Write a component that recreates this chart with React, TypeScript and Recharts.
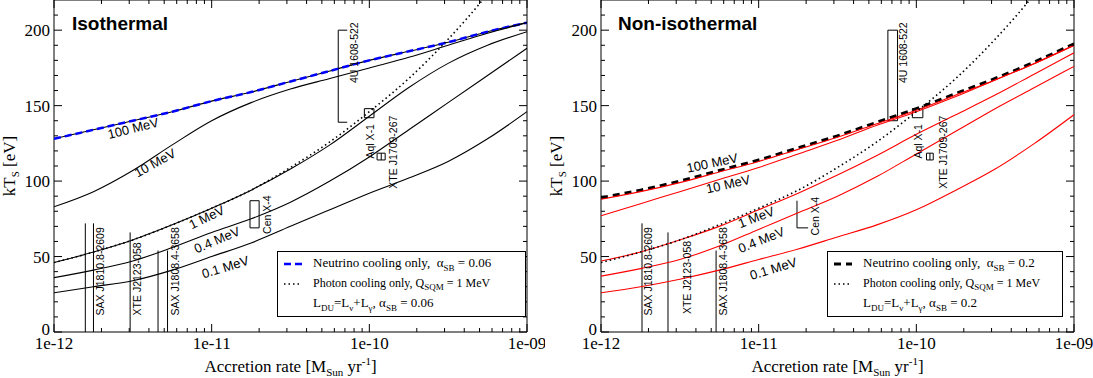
import React from "react";
import {
  LineChart,
  Line,
  XAxis,
  YAxis,
  ReferenceArea,
  ReferenceLine,
  ReferenceDot,
} from "recharts";

// accretion rate grid, M_sun / yr (quarter-decade steps)
const rates = [
  1e-12, 1.78e-12, 3.16e-12, 5.62e-12, 1e-11, 1.78e-11, 3.16e-11, 5.62e-11,
  1e-10, 1.78e-10, 3.16e-10, 5.62e-10, 1e-9,
];

// isothermal panel, kT_S [eV]
const isoNeutrino = [128, 134, 140, 146, 153, 159, 166, 173, 180, 186, 192, 199, 205];
const iso100 = [128, 134, 140, 146, 153, 159, 166, 173, 180, 186, 192, 199, 205];
const iso10 = [83, 93, 107, 124, 140, 152, 161, 168, 175, 182, 190, 198, 205];
const iso1 = [46, 53, 61, 71, 82, 94, 108, 124, 143, 162, 178, 190, 199];
const iso04 = [36, 41, 47, 56, 66, 75, 86, 100, 116, 134, 152, 170, 188];
const iso01 = [26, 30, 34, 41, 50, 59, 70, 81, 92, 102, 113, 128, 146];

// photon cooling only (same in both panels)
const photonOnly = [46, 53, 61, 71, 82, 94, 109, 126, 146, 168, 194, 224, 259];

// non-isothermal panel
const nonNeutrino = [89, 94, 100, 107, 114, 122, 130, 139, 148, 158, 168, 179, 191];
const non100 = [88, 93, 99, 106, 113, 121, 129, 138, 147, 157, 167, 178, 190];
const non10 = [77, 85, 93, 101, 109, 118, 127, 137, 146, 156, 167, 178, 190];
const non1 = [47, 53, 61, 70, 81, 92, 104, 117, 131, 144, 157, 171, 185];
const non04 = [37, 42, 48, 57, 68, 79, 90, 103, 118, 133, 148, 162, 176];
const non01 = [26, 30, 35, 41, 48, 55, 63, 71, 81, 94, 108, 125, 144];

const xTicks = [
  1e-12, 2e-12, 3e-12, 4e-12, 5e-12, 6e-12, 7e-12, 8e-12, 9e-12,
  1e-11, 2e-11, 3e-11, 4e-11, 5e-11, 6e-11, 7e-11, 8e-11, 9e-11,
  1e-10, 2e-10, 3e-10, 4e-10, 5e-10, 6e-10, 7e-10, 8e-10, 9e-10, 1e-9,
];
const yTicks = [0, 10, 20, 30, 40, 50, 60, 70, 80, 90, 100, 110, 120, 130, 140, 150, 160, 170, 180, 190, 200, 210];

// observed sources: [rate1, kT1, rate2, kT2] segments
type Seg = [number, number, number, number];
const box = (x1: number, x2: number, y1: number, y2: number): Seg[] => [
  [x1, y1, x2, y1],
  [x2, y1, x2, y2],
  [x2, y2, x1, y2],
  [x1, y2, x1, y1],
];

const isoMarkers: Seg[] = [
  [1.58e-12, 0, 1.58e-12, 72],
  [1.78e-12, 0, 1.78e-12, 72],
  [3.04e-12, 0, 3.04e-12, 66],
  [4.57e-12, 0, 4.57e-12, 54],
  [5.25e-12, 0, 5.25e-12, 54],
  ...box(1.75e-11, 2.0e-11, 69, 87),
  [6.35e-11, 139, 6.35e-11, 200],
  [6.35e-11, 200, 7.24e-11, 200],
  [6.35e-11, 139, 7.24e-11, 139],
  ...box(9.3e-11, 1.07e-10, 142, 148),
  ...box(1.12e-10, 1.26e-10, 114, 118.5),
  [1.19e-10, 114, 1.19e-10, 118.5],
];

const nonMarkers: Seg[] = [
  [1.82e-12, 0, 1.82e-12, 72],
  [2.66e-12, 0, 2.66e-12, 66],
  [5.37e-12, 0, 5.37e-12, 54],
  [1.75e-11, 69, 1.75e-11, 87],
  [1.75e-11, 69, 2.06e-11, 69],
  ...box(6.6e-11, 7.6e-11, 140, 200),
  ...box(9.44e-11, 1.1e-10, 142, 148),
  ...box(1.16e-10, 1.28e-10, 114, 118.5),
  [1.22e-10, 114, 1.22e-10, 118.5],
];

type Lab = { text: string; rate: number; kT: number; angle: number };

const isoSourceLabels: Lab[] = [
  { text: "SAX J1810.8-2609", rate: 1.96e-12, kT: 11, angle: -90 },
  { text: "XTE J2123-058", rate: 3.37e-12, kT: 11, angle: -90 },
  { text: "SAX J1808.4-3658", rate: 5.86e-12, kT: 11, angle: -90 },
  { text: "Cen X-4", rate: 2.25e-11, kT: 65, angle: -90 },
  { text: "4U 1608-522", rate: 8.04e-11, kT: 165, angle: -90 },
  { text: "Aql X-1", rate: 1.01e-10, kT: 115, angle: -90 },
  { text: "XTE J1709-267", rate: 1.42e-10, kT: 95, angle: -90 },
];
const nonSourceLabels: Lab[] = [
  { text: "SAX J1810.8-2609", rate: 1.99e-12, kT: 11, angle: -90 },
  { text: "XTE J2123-058", rate: 3.52e-12, kT: 12, angle: -90 },
  { text: "SAX J1808.4-3658", rate: 5.96e-12, kT: 11, angle: -90 },
  { text: "Cen X-4", rate: 2.29e-11, kT: 64, angle: -90 },
  { text: "4U 1608-522", rate: 8.26e-11, kT: 165, angle: -90 },
  { text: "Aql X-1", rate: 1.03e-10, kT: 115, angle: -90 },
  { text: "XTE J1709-267", rate: 1.48e-10, kT: 95, angle: -90 },
];

const isoCurveLabels: Lab[] = [
  { text: "100 MeV", rate: 3.18e-12, kT: 135, angle: -14 },
  { text: "10 MeV", rate: 4.37e-12, kT: 112, angle: -29 },
  { text: "1 MeV", rate: 9.3e-12, kT: 76, angle: -26 },
  { text: "0.4 MeV", rate: 1.08e-11, kT: 61, angle: -23 },
  { text: "0.1 MeV", rate: 1.22e-11, kT: 43, angle: -17 },
];
const nonCurveLabels: Lab[] = [
  { text: "100 MeV", rate: 5.07e-12, kT: 112, angle: -12 },
  { text: "10 MeV", rate: 6.4e-12, kT: 98, angle: -13 },
  { text: "1 MeV", rate: 9.64e-12, kT: 76, angle: -21 },
  { text: "0.4 MeV", rate: 1.04e-11, kT: 61, angle: -22 },
  { text: "0.1 MeV", rate: 1.24e-11, kT: 42, angle: -17 },
];

const isoRows = rates.map((rate, i) => ({
  rate,
  nu: isoNeutrino[i],
  q100: iso100[i],
  q10: iso10[i],
  q1: iso1[i],
  q04: iso04[i],
  q01: iso01[i],
  photon: photonOnly[i],
}));
const nonRows = rates.map((rate, i) => ({
  rate,
  nu: nonNeutrino[i],
  q100: non100[i],
  q10: non10[i],
  q1: non1[i],
  q04: non04[i],
  q01: non01[i],
  photon: photonOnly[i],
}));

const SERIF = "'Liberation Serif', 'Times New Roman', serif";
const SANS = "'Liberation Sans', Arial, sans-serif";
const H = 378;
const TOP = 0;
const BOTTOM = 332;
const YW = 54;

function XTick(props: any) {
  const { x, payload } = props;
  const e = Math.log10(payload.value);
  const major = Math.abs(e - Math.round(e)) < 1e-6;
  const len = major ? 8 : 4;
  const label = "1e-" + String(-Math.round(e)).padStart(2, "0");
  return (
    <g>
      <line x1={x} x2={x} y1={BOTTOM} y2={BOTTOM - len} stroke="#000" />
      <line x1={x} x2={x} y1={TOP} y2={TOP + len} stroke="#000" />
      {major && (
        <text x={x} y={BOTTOM + 17} textAnchor="middle" fontFamily={SERIF} fontSize={17} fill="#000">
          {label}
        </text>
      )}
    </g>
  );
}

function YTick(props: any) {
  const { y, payload, right } = props;
  const v = payload.value;
  const major = v % 50 === 0;
  const len = major ? 8 : 4;
  return (
    <g>
      <line x1={YW} x2={YW + len} y1={y} y2={y} stroke="#000" />
      <line x1={right} x2={right - len} y1={y} y2={y} stroke="#000" />
      {major && (
        <text x={YW - 4} y={y + (v === 0 ? 3 : 6)} textAnchor="end" fontFamily={SERIF} fontSize={17} fill="#000">
          {v}
        </text>
      )}
    </g>
  );
}

function Panel(props: {
  width: number;
  right: number;
  rows: any[];
  markers: Seg[];
  sourceLabels: Lab[];
  curveLabels: Lab[];
  nuColor: string;
  nuWidth: number;
  nuDash: string;
  curveColor: string;
  nuOnTop: boolean;
}) {
  const { width, right, rows, markers, sourceLabels, curveLabels } = props;
  const plotRight = width - right;
  const cx = (YW + plotRight) / 2;
  const qKeys = ["q100", "q10", "q1", "q04", "q01"];
  const nuLine = (
    <Line
      key="nu"
      dataKey="nu"
      type="monotone"
      stroke={props.nuColor}
      strokeWidth={props.nuWidth}
      strokeDasharray={props.nuDash}
      dot={false}
      isAnimationActive={false}
    />
  );
  const qLines = qKeys.map((k) => (
    <Line
      key={k}
      dataKey={k}
      type="monotone"
      stroke={props.curveColor}
      strokeWidth={1.1}
      dot={false}
      isAnimationActive={false}
    />
  ));
  return (
    <LineChart width={width} height={H} data={rows} margin={{ top: TOP, right, left: 0, bottom: 0 }}>
      <XAxis
        dataKey="rate"
        type="number"
        scale="log"
        domain={[1e-12, 1e-9]}
        ticks={xTicks}
        interval={0}
        allowDataOverflow
        height={H - BOTTOM}
        axisLine={false}
        tickLine={false}
        tick={(p: any) => <XTick {...p} />}
        label={() => (
          <text x={cx} y={372} textAnchor="middle" fontFamily={SERIF} fontSize={17} fill="#000">
            Accretion rate [M
            <tspan dy={4} fontSize={11}>Sun</tspan>
            <tspan dy={-4}> yr</tspan>
            <tspan dy={-7} fontSize={11}>-1</tspan>
            <tspan dy={7}>]</tspan>
          </text>
        )}
      />
      <YAxis
        type="number"
        domain={[0, 220]}
        ticks={yTicks}
        interval={0}
        allowDataOverflow
        width={YW}
        axisLine={false}
        tickLine={false}
        tick={(p: any) => <YTick {...p} right={plotRight} />}
        label={() => (
          <text
            x={15}
            y={166}
            transform="rotate(-90 15 166)"
            textAnchor="middle"
            fontFamily={SERIF}
            fontSize={17}
            fill="#000"
          >
            kT
            <tspan dy={4} fontSize={11}>S</tspan>
            <tspan dy={-4}> [eV]</tspan>
          </text>
        )}
      />
      <ReferenceArea x1={1e-12} x2={1e-9} y1={0} y2={220} fill="none" stroke="#000" strokeWidth={1} ifOverflow="visible" />
      {markers.map((s, i) => (
        <ReferenceLine
          key={"m" + i}
          segment={[
            { x: s[0], y: s[1] },
            { x: s[2], y: s[3] },
          ]}
          stroke="#000"
          strokeWidth={1}
          ifOverflow="visible"
        />
      ))}
      {props.nuOnTop ? [qLines[0], nuLine, ...qLines.slice(1)] : [nuLine, ...qLines]}
      <Line
        dataKey="photon"
        type="monotone"
        stroke="#000"
        strokeWidth={1.6}
        strokeDasharray="1.5 3"
        dot={false}
        isAnimationActive={false}
      />
      {sourceLabels.map((l, i) => (
        <ReferenceDot
          key={"s" + i}
          x={l.rate}
          y={l.kT}
          r={0}
          ifOverflow="visible"
          shape={(p: any) => (
            <text
              x={p.cx}
              y={p.cy}
              transform={`rotate(${l.angle} ${p.cx} ${p.cy})`}
              textAnchor="start"
              dominantBaseline="central"
              fontFamily={SANS}
              fontSize={10.5}
              fill="#000"
            >
              {l.text}
            </text>
          )}
        />
      ))}
      {curveLabels.map((l, i) => (
        <ReferenceDot
          key={"c" + i}
          x={l.rate}
          y={l.kT}
          r={0}
          ifOverflow="visible"
          shape={(p: any) => (
            <text
              x={p.cx}
              y={p.cy}
              transform={`rotate(${l.angle} ${p.cx} ${p.cy})`}
              textAnchor="middle"
              dominantBaseline="central"
              fontFamily={SANS}
              fontSize={13}
              fill="#000"
            >
              {l.text}
            </text>
          )}
        />
      ))}
    </LineChart>
  );
}

function LegendBox(props: {
  left: number;
  width: number;
  nuSample: React.ReactNode;
  alpha: string;
}) {
  const row = (top: number): React.CSSProperties => ({
    position: "absolute",
    left: 35,
    top,
    whiteSpace: "nowrap",
    lineHeight: "16px",
  });
  return (
    <div
      style={{
        position: "absolute",
        left: props.left,
        top: 251,
        width: props.width,
        height: 66,
        border: "1px solid #000",
        boxSizing: "border-box",
        background: "#fff",
        fontFamily: SERIF,
        fontSize: 13,
        color: "#000",
      }}
    >
      <svg style={{ position: "absolute", left: 5, top: 6 }} width={20} height={50}>
        {props.nuSample}
        <line x1={1} x2={19} y1={26} y2={26} stroke="#000" strokeWidth={1.5} strokeDasharray="1.5 3" />
      </svg>
      <div style={row(3)}>
        Neutrino cooling only,&nbsp; α<sub style={{ fontSize: 9 }}>SB</sub> = {props.alpha}
      </div>
      <div style={{ ...row(23), fontSize: 12 }}>
        Photon cooling only, Q<sub style={{ fontSize: 9 }}>SQM</sub> = 1 MeV
      </div>
      <div style={row(43)}>
        L<sub style={{ fontSize: 9 }}>DU</sub>=L<sub style={{ fontSize: 9 }}>ν</sub>+L
        <sub style={{ fontSize: 9 }}>γ</sub>, α<sub style={{ fontSize: 9 }}>SB</sub> = {props.alpha}
      </div>
    </div>
  );
}

const titleStyle = (left: number): React.CSSProperties => ({
  position: "absolute",
  left,
  top: 14,
  fontFamily: SANS,
  fontWeight: "bold",
  fontSize: 19,
  lineHeight: "19px",
  color: "#000",
  whiteSpace: "nowrap",
});

export default function App() {
  return (
    <div style={{ position: "absolute", left: 0, top: 0, width: 1093, height: 378, background: "#fff" }}>
      <div style={{ position: "absolute", left: 0, top: 0 }}>
        <Panel
          width={545}
          right={18}
          rows={isoRows}
          markers={isoMarkers}
          sourceLabels={isoSourceLabels}
          curveLabels={isoCurveLabels}
          nuColor="#0000ff"
          nuWidth={2.5}
          nuDash="7 4"
          curveColor="#000"
          nuOnTop={true}
        />
      </div>
      <div style={{ position: "absolute", left: 547, top: 0 }}>
        <Panel
          width={546}
          right={19}
          rows={nonRows}
          markers={nonMarkers}
          sourceLabels={nonSourceLabels}
          curveLabels={nonCurveLabels}
          nuColor="#000"
          nuWidth={3}
          nuDash="7 5"
          curveColor="#ff0000"
          nuOnTop={false}
        />
      </div>
      <div style={titleStyle(72)}>Isothermal</div>
      <div style={titleStyle(618)}>Non-isothermal</div>
      <LegendBox
        left={277}
        width={249}
        alpha="0.06"
        nuSample={<line x1={1} x2={19} y1={6} y2={6} stroke="#0000ff" strokeWidth={2.5} strokeDasharray="7 4" />}
      />
      <LegendBox
        left={827}
        width={236}
        alpha="0.2"
        nuSample={<line x1={1} x2={19} y1={6} y2={6} stroke="#000" strokeWidth={3} strokeDasharray="7 5" />}
      />
    </div>
  );
}
